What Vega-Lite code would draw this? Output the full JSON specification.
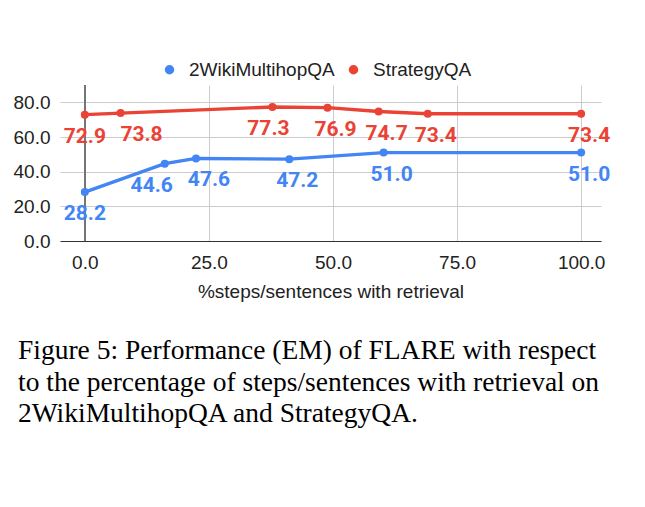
{
  "$schema": "https://vega.github.io/schema/vega-lite/v6.json",
  "width": 541,
  "height": 156,
  "autosize": "none",
  "padding": {"left": 60, "top": 85, "right": 44, "bottom": 266},
  "background": "white",
  "config": {
    "view": {"stroke": null},
    "font": "Liberation Sans",
    "axis": {"labelOverlap": false, "labelFlush": false}
  },
  "title": {
    "text": ["Figure 5: Performance (EM) of FLARE with respect", "to the percentage of steps/sentences with retrieval on", "2WikiMultihopQA and StrategyQA."],
    "orient": "bottom",
    "anchor": "start",
    "frame": "group",
    "font": "Liberation Serif",
    "fontSize": 27.5,
    "fontWeight": "normal",
    "color": "#000000",
    "lineHeight": 31.5,
    "dx": -42,
    "offset": 36
  },
  "data": {
    "values": [
      {"series": "2WikiMultihopQA", "x": 0, "y": 28.2},
      {"series": "2WikiMultihopQA", "x": 16.1, "y": 44.6},
      {"series": "2WikiMultihopQA", "x": 22.4, "y": 47.6},
      {"series": "2WikiMultihopQA", "x": 41.2, "y": 47.2},
      {"series": "2WikiMultihopQA", "x": 60.2, "y": 51.0},
      {"series": "2WikiMultihopQA", "x": 100, "y": 51.0},
      {"series": "StrategyQA", "x": 0, "y": 72.9},
      {"series": "StrategyQA", "x": 7.2, "y": 73.8},
      {"series": "StrategyQA", "x": 37.8, "y": 77.3},
      {"series": "StrategyQA", "x": 48.9, "y": 76.9},
      {"series": "StrategyQA", "x": 59.2, "y": 74.7},
      {"series": "StrategyQA", "x": 69.1, "y": 73.4},
      {"series": "StrategyQA", "x": 100, "y": 73.4}
    ]
  },
  "layer": [
    {
      "mark": {"type": "line", "strokeWidth": 3.3},
      "encoding": {
        "x": {
          "field": "x", "type": "quantitative",
          "scale": {"domain": [-5, 104], "nice": false, "zero": false},
          "title": "%steps/sentences with retrieval",
          "axis": {
            "values": [0, 25, 50, 75, 100], "format": ".1f", "labelOverlap": false,
            "grid": true, "gridColor": "#cccccc", "gridWidth": 1,
            "domainColor": "#333333", "domainWidth": 1,
            "ticks": false,
            "labelFont": "Liberation Sans", "labelFontSize": 19, "labelColor": "#222222", "labelPadding": 12,
            "titleFont": "Liberation Sans", "titleFontSize": 19, "titleFontWeight": "normal", "titleColor": "#222222", "titlePadding": 10
          }
        },
        "y": {
          "field": "y", "type": "quantitative",
          "scale": {"domain": [0, 90], "nice": false},
          "axis": {
            "tickCount": 5, "format": ".1f", "title": null, "labelOverlap": false,
            "domain": false, "ticks": false,
            "grid": true, "gridColor": "#cccccc", "gridWidth": 1,
            "labelFont": "Liberation Sans", "labelFontSize": 19, "labelColor": "#222222", "labelPadding": 10
          }
        },
        "color": {
          "field": "series", "type": "nominal",
          "scale": {"domain": ["2WikiMultihopQA", "StrategyQA"], "range": ["#4285F4", "#EA4335"]},
          "legend": {
            "title": null, "orient": "none", "direction": "horizontal",
            "legendX": 100, "legendY": -25,
            "symbolType": "circle", "symbolSize": 90, "symbolStrokeWidth": 0,
            "labelFont": "Liberation Sans", "labelFontSize": 19, "labelColor": "#222222",
            "labelOffset": 10, "columnPadding": 9,
            "encode": {"symbols": {"update": {"fill": {"signal": "scale('color', datum.value)"}, "strokeWidth": {"value": 0}, "opacity": {"value": 1}}}}
          }
        }
      }
    },
    {
      "mark": {"type": "rule", "color": "#757575", "strokeWidth": 1.5},
      "encoding": {
        "x": {"datum": 0, "type": "quantitative"}
      }
    },
    {
      "mark": {"type": "point", "filled": true, "opacity": 1, "size": 64, "shape": "circle"},
      "encoding": {
        "x": {"field": "x", "type": "quantitative"},
        "y": {"field": "y", "type": "quantitative"},
        "color": {"field": "series", "type": "nominal"}
      }
    },
    {
      "mark": {
        "type": "text", "font": "Roboto", "fontWeight": "bold", "fontSize": 21,
        "baseline": "middle", "align": "center", "dy": 22,
        "dx": {"expr": "datum.x == 0 ? 0 : datum.x == 7.2 ? 21 : datum.x == 16.1 ? -13 : datum.x == 22.4 ? 13 : datum.x == 37.8 ? -4 : 8"}
      },
      "encoding": {
        "x": {"field": "x", "type": "quantitative"},
        "y": {"field": "y", "type": "quantitative"},
        "text": {"field": "y", "type": "quantitative", "format": ".1f"},
        "color": {"field": "series", "type": "nominal"}
      }
    }
  ]
}
